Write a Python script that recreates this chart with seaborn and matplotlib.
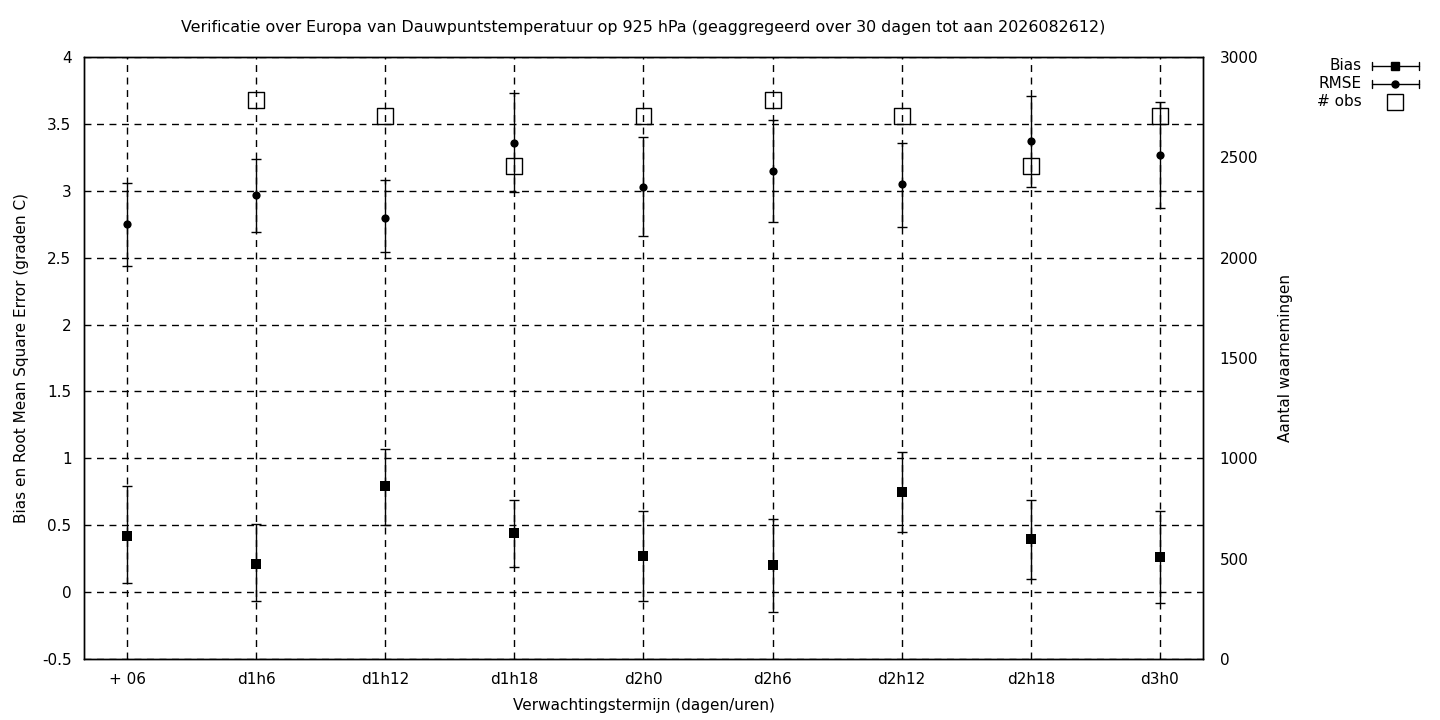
import numpy as np
import pandas as pd
import matplotlib
matplotlib.use("Agg")
import matplotlib.pyplot as plt
import seaborn as sns
from matplotlib.lines import Line2D

categories = ["+ 06", "d1h6", "d1h12", "d1h18", "d2h0", "d2h6", "d2h12", "d2h18", "d3h0"]
bias = [0.42, 0.21, 0.79, 0.44, 0.27, 0.20, 0.75, 0.40, 0.26]
bias_low = [0.07, -0.07, 0.50, 0.19, -0.07, -0.15, 0.45, 0.10, -0.08]
bias_high = [0.79, 0.51, 1.07, 0.69, 0.61, 0.55, 1.05, 0.69, 0.61]
rmse = [2.75, 2.97, 2.80, 3.36, 3.03, 3.15, 3.05, 3.37, 3.27]
rmse_low = [2.44, 2.69, 2.54, 2.99, 2.66, 2.77, 2.73, 3.03, 2.87]
rmse_high = [3.06, 3.24, 3.08, 3.73, 3.40, 3.53, 3.36, 3.71, 3.66]
nobs = [np.nan, 2785, 2705, 2455, 2705, 2785, 2705, 2455, 2705]

sns.set_theme(style="ticks")
plt.rcParams['font.family'] = ['DejaVu Sans']
plt.rcParams['text.color'] = 'black'
plt.rcParams['axes.labelcolor'] = 'black'

W, H = 1440, 720
fig = plt.figure(figsize=(14.4, 7.2), dpi=100)
ax = fig.add_axes([84 / W, 1 - 659 / H, (1203 - 84) / W, (659 - 57) / H])
ax2 = ax.twinx()

x = np.arange(len(categories))
df = pd.DataFrame({"x": x, "bias": bias, "rmse": rmse, "nobs": nobs})

b = np.array(bias); r = np.array(rmse)
ax.errorbar(x, b, yerr=[b - np.array(bias_low), np.array(bias_high) - b], fmt="none",
            ecolor="black", elinewidth=1.0, capsize=3.5, capthick=1.0, zorder=3)
ax.errorbar(x, r, yerr=[r - np.array(rmse_low), np.array(rmse_high) - r], fmt="none",
            ecolor="black", elinewidth=1.0, capsize=3.5, capthick=1.0, zorder=3)
sns.scatterplot(data=df, x="x", y="bias", ax=ax, marker="s", s=45, color="black",
                edgecolor="black", linewidth=0, zorder=4, legend=False)
sns.scatterplot(data=df, x="x", y="rmse", ax=ax, marker="o", s=35, color="black",
                edgecolor="black", linewidth=0, zorder=4, legend=False)
sns.scatterplot(data=df, x="x", y="nobs", ax=ax2, marker="s", s=130, facecolor="none",
                edgecolor="black", linewidth=1.0, zorder=4, legend=False)

ax.set_xlim(-1 / 3, 8 + 1 / 3)
ax.set_ylim(-0.5, 4)
ax2.set_ylim(0, 3000)
ax.set_xticks(x)
ax.set_xticklabels(categories)
ax.set_yticks(np.arange(-0.5, 4.01, 0.5))
ax.set_yticklabels([f"{v:g}" for v in np.arange(-0.5, 4.01, 0.5)])
ax2.set_yticks(np.arange(0, 3001, 500))

ax.grid(True, color="black", linestyle=(0, (5, 4)), linewidth=1.0)
for a in (ax, ax2):
    for s in a.spines.values():
        s.set_color("black"); s.set_linewidth(1.0)
    a.tick_params(length=0, labelsize=11, colors="black")
ax.tick_params(axis="x", pad=9)
ax.tick_params(axis="y", pad=9)
ax2.tick_params(axis="y", pad=12)
ax.set_zorder(ax2.get_zorder() + 1)
ax.patch.set_visible(False)

ax.set_xlabel("Verwachtingstermijn (dagen/uren)", fontsize=11, labelpad=8)
ax.set_ylabel("Bias en Root Mean Square Error (graden C)", fontsize=11, labelpad=9)
ax2.set_ylabel("Aantal waarnemingen", fontsize=11, labelpad=14)
ax.set_title("Verificatie over Europa van Dauwpuntstemperatuur op 925 hPa (geaggregeerd over 30 dagen tot aan 2026082612)",
             fontsize=11.4, pad=18)

# legend (figure pixel coordinates)
def fx(px): return px / W
def fy(py): return 1 - py / H
labels = ["Bias", "RMSE", "# obs"]
ys = [66, 84, 102]
for lab, yy in zip(labels, ys):
    fig.text(fx(1362), fy(yy), lab, ha="right", va="center", fontsize=11)
for yy, mk, ms in [(66, "s", 5.5), (84, "o", 5)]:
    fig.add_artist(Line2D([fx(1372), fx(1419)], [fy(yy), fy(yy)], color="black", lw=1.0))
    for xe in (1372, 1419):
        fig.add_artist(Line2D([fx(xe), fx(xe)], [fy(yy - 4), fy(yy + 4)], color="black", lw=1.0))
    fig.add_artist(Line2D([fx(1395)], [fy(yy)], marker=mk, markersize=ms, color="black", lw=0))
fig.add_artist(Line2D([fx(1395)], [fy(102)], marker="s", markersize=11, markerfacecolor="none",
                      markeredgecolor="black", markeredgewidth=1.0, lw=0))

fig.savefig("out.png", dpi=100)
